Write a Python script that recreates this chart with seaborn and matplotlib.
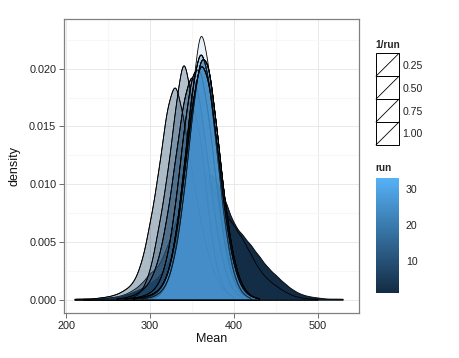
import numpy as np
import matplotlib
matplotlib.use("Agg")
import matplotlib.pyplot as plt
import seaborn as sns
from matplotlib.colors import LinearSegmentedColormap, Normalize
from matplotlib.cm import ScalarMappable
from matplotlib.patches import Rectangle
from matplotlib.lines import Line2D

# ---------------- data ----------------
# density readings of "Mean" at these knots (210, 220, ..., 540)
mean_grid = list(range(210, 550, 10))

prof_A = [0, 0.0001, 0.0001, 0.0001, 0.0002, 0.0002, 0.0004, 0.0007, 0.001, 0.0015,
          0.002, 0.003, 0.005, 0.007, 0.0095, 0.011, 0.0115, 0.0105, 0.0088, 0.0067,
          0.0058, 0.0049, 0.0039, 0.0029, 0.0022, 0.0015, 0.0009, 0.0005, 0.0003, 0.0002,
          0.0001, 0.0001, 0.0001, 0]
prof_B = [0, 0, 0, 0.0001, 0.0002, 0.0003, 0.0005, 0.0009, 0.0015, 0.0025,
          0.003, 0.0048, 0.007, 0.0095, 0.0115, 0.012, 0.011, 0.0092, 0.008, 0.0068,
          0.0057, 0.0042, 0.0028, 0.0019, 0.0013, 0.0008, 0.0004, 0.0002, 0.0001, 0.0001,
          0, 0, 0, 0]
prof_C = [0.0001, 0.0001, 0.0001, 0.0002, 0.0003, 0.0005, 0.0009, 0.0015, 0.0033, 0.007,
          0.0115, 0.0175, 0.0203, 0.0165, 0.0115, 0.0072, 0.0038, 0.0017, 0.0007, 0.0002,
          0, 0, 0, 0, 0, 0, 0, 0, 0, 0,
          0, 0, 0, 0]
prof_D = [0, 0, 0, 0, 0, 0, 0.0001, 0.0002, 0.0007, 0.0024,
          0.0062, 0.0105, 0.0165, 0.0222, 0.0168, 0.0148, 0.007, 0.0022, 0.0007, 0.0002,
          0, 0, 0, 0, 0, 0, 0, 0, 0, 0,
          0, 0, 0, 0]
prof_E = [0, 0, 0, 0, 0, 0.0001, 0.0002, 0.0004, 0.0008, 0.0016,
          0.0035, 0.0072, 0.0125, 0.018, 0.0208, 0.0178, 0.0115, 0.0058, 0.0022, 0.0007,
          0.0002, 0, 0, 0, 0, 0, 0, 0, 0, 0,
          0, 0, 0, 0]
prof_F = [0, 0, 0, 0, 0, 0, 0.0001, 0.0002, 0.0003, 0.0006,
          0.0013, 0.0034, 0.0081, 0.0148, 0.0201, 0.0207, 0.0161, 0.0094, 0.0041, 0.0014,
          0.0004, 0.0001, 0, 0, 0, 0, 0, 0, 0, 0,
          0, 0, 0, 0]
prof_G = [0, 0, 0, 0, 0, 0, 0, 0.0001, 0.0002, 0.0004,
          0.0008, 0.0019, 0.005, 0.0106, 0.0172, 0.0215, 0.0196, 0.0134, 0.007, 0.0028,
          0.0009, 0.0003, 0.0001, 0, 0, 0, 0, 0, 0, 0,
          0, 0, 0, 0]
prof_Ga = [0, 0, 0, 0, 0, 0, 0, 0, 0.0001, 0.0003,
           0.0007, 0.0018, 0.0052, 0.0112, 0.0185, 0.0225, 0.0195, 0.0125, 0.0058, 0.0019,
           0.0005, 0.0001, 0, 0, 0, 0, 0, 0, 0, 0,
           0, 0, 0, 0]
prof_Gb = [0, 0, 0, 0, 0, 0, 0, 0, 0.0001, 0.0002,
           0.0005, 0.0013, 0.0038, 0.0088, 0.016, 0.0215, 0.0207, 0.0145, 0.0078, 0.0032,
           0.0011, 0.0003, 0.0001, 0, 0, 0, 0, 0, 0, 0,
           0, 0, 0, 0]
prof_H = [0, 0, 0, 0, 0, 0, 0, 0, 0, 0.0001,
          0.0003, 0.0012, 0.0042, 0.01, 0.0178, 0.0248, 0.0205, 0.013, 0.006, 0.002,
          0.0005, 0.0001, 0, 0, 0, 0, 0, 0, 0, 0,
          0, 0, 0, 0]

profiles = {"A": prof_A, "B": prof_B, "C": prof_C, "D": prof_D, "E": prof_E,
            "F": prof_F, "G": prof_G, "Ga": prof_Ga, "Gb": prof_Gb, "H": prof_H}

runs = list(range(1, 34))
run_profile = ["A", "B", "G", "Gb", "E", "C", "D", "E", "C", "D",
               "E", "F", "F", "G", "Gb", "Ga", "G", "F", "Gb", "G",
               "Ga", "G", "Gb", "G", "H", "Ga", "G", "Gb", "G", "Ga",
               "G", "Gb", "G"]

x_ticks = [200, 300, 400, 500]
y_ticks = [0.000, 0.005, 0.010, 0.015, 0.020]
alpha_breaks = [0.25, 0.50, 0.75, 1.00]
run_breaks = [10, 20, 30]

# ---------------- style ----------------
sns.set_style("white")
plt.rcParams["font.family"] = ["Liberation Sans", "DejaVu Sans"]

W, H = 459, 358
fig = plt.figure(figsize=(W / 100, H / 100), dpi=100)
ax = fig.add_axes([64 / W, 1 - 313 / H, (359 - 64) / W, (313 - 19) / H])

cmap = LinearSegmentedColormap.from_list("gg", ["#132B43", "#346E9D", "#56B1F7"])
cnorm = Normalize(vmin=min(runs), vmax=max(runs))
inv = [1.0 / r for r in runs]
amin, amax = min(inv), max(inv)


def run_alpha(r):
    return 0.1 + 0.9 * (1.0 / r - amin) / (amax - amin)


BW = 5.5
xg = np.array(mean_grid, dtype=float)
for r, pname in zip(runs, run_profile):
    w = np.array(profiles[pname], dtype=float)
    m = w > 0
    xs, ws = xg[m], w[m]
    mu = np.average(xs, weights=ws)
    sd = np.sqrt(np.average((xs - mu) ** 2, weights=ws))
    sns.kdeplot(x=xs, weights=ws, bw_method=BW / sd, cut=0, gridsize=500,
                fill=True, color=cmap(cnorm(r)), alpha=run_alpha(r),
                edgecolor="black", linewidth=0.6, ax=ax, zorder=2)

ax.set_xlim(197.5, 549.5)
ax.set_ylim(-0.00115, 0.0243)
ax.set_xticks(x_ticks)
ax.set_yticks(y_ticks)
ax.set_xticklabels([str(v) for v in x_ticks])
ax.set_yticklabels([f"{v:.3f}" for v in y_ticks])
ax.set_xticks([250, 350, 450], minor=True)
ax.set_yticks([0.0025, 0.0075, 0.0125, 0.0175, 0.0225], minor=True)
ax.grid(True, which="major", color="#e5e5e5", linewidth=0.6, zorder=0)
ax.grid(True, which="minor", color="#f7f7f7", linewidth=0.8, zorder=0)
ax.set_axisbelow(True)
ax.tick_params(axis="both", which="major", direction="out", length=3.5, width=0.6,
               color="#555555", labelsize=7.8, labelcolor="#222222", pad=2,
               bottom=True, left=True)
ax.tick_params(axis="both", which="minor", length=0)
for s in ax.spines.values():
    s.set_color("#808080")
    s.set_linewidth(0.9)
ax.set_xlabel("Mean", fontsize=9, color="#111111", labelpad=2)
ax.set_ylabel("density", fontsize=9, color="#111111", labelpad=6)

# ---------------- legends ----------------
ov = fig.add_axes([0, 0, 1, 1], facecolor="none")
ov.set_xlim(0, W)
ov.set_ylim(H, 0)
ov.axis("off")

ov.text(375, 45, "1/run", fontsize=7.3, fontweight="bold", va="center", ha="left")
key_top = 53.3
key_h = 22.9
for i, b in enumerate(alpha_breaks):
    y0 = key_top + i * key_h
    ov.add_patch(Rectangle((376, y0), 23, key_h, facecolor="white",
                           edgecolor="black", linewidth=0.7))
    ov.add_line(Line2D([376, 399], [y0 + key_h, y0], color="black", linewidth=0.6))
    ov.text(402.5, y0 + key_h / 2 + 1, f"{b:.2f}", fontsize=7.6, va="center", ha="left",
            color="#222222")

ov.text(375, 168, "run", fontsize=7.3, fontweight="bold", va="center", ha="left")
cax = fig.add_axes([376 / W, 1 - 293.3 / H, 23 / W, (293.3 - 178.3) / H])
sm = ScalarMappable(norm=cnorm, cmap=cmap)
cb = fig.colorbar(sm, cax=cax, ticks=run_breaks)
cb.outline.set_visible(False)
cax.tick_params(axis="y", direction="in", length=4.5, width=0.8, color="white",
                left=True, right=True, labelleft=False, labelright=True,
                labelsize=7.6, labelcolor="#222222", pad=5)

fig.savefig("out.png", dpi=100)
